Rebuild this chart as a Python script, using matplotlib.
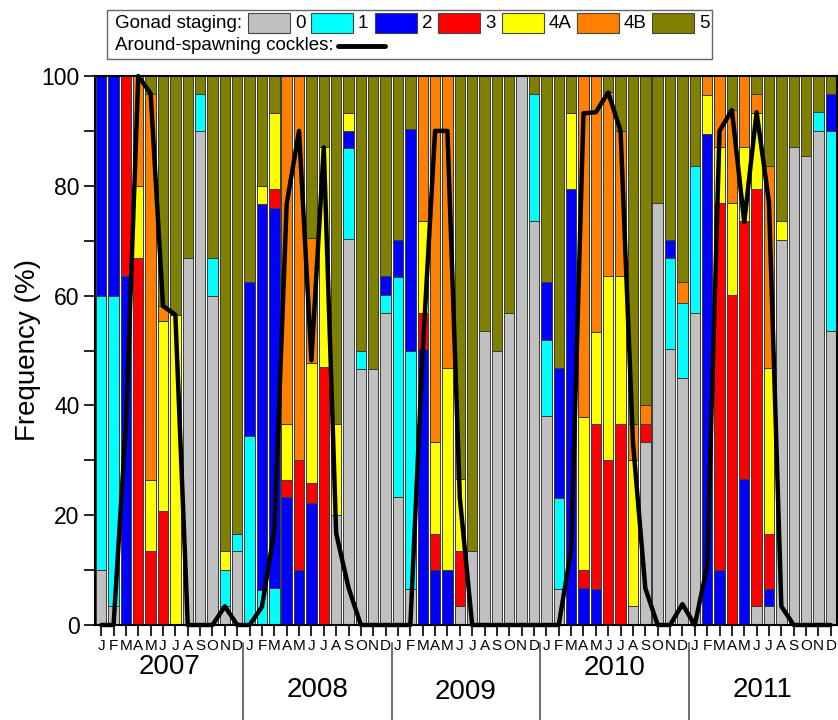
import matplotlib
matplotlib.use('Agg')
import matplotlib.pyplot as plt
import matplotlib.transforms as mtransforms
from matplotlib.patches import Rectangle
from matplotlib.lines import Line2D
import numpy as np

plt.rcParams['font.family'] = ['Liberation Sans', 'DejaVu Sans']

years = ['2007', '2008', '2009', '2010', '2011']
months = ['J', 'F', 'M', 'A', 'M', 'J', 'J', 'A', 'S', 'O', 'N', 'D']
stage_names = ['0', '1', '2', '3', '4A', '4B', '5']
stage_colors = ['#C0C0C0', '#00FFFF', '#0000FF', '#FF0000', '#FFFF00', '#FF8000', '#808000']

# % of cockles per gonad stage, Jan 2007 .. Dec 2011 (one line per year)
stage0 = [10, 3.4, 0, 0, 0, 0, 0, 66.8, 90, 60, 3.4, 13.4,
          0, 0, 0, 0, 0, 0, 0, 20, 70.3, 46.6, 46.6, 56.8,
          23.3, 6.6, 0, 0, 0, 3.4, 13.4, 53.6, 50, 56.8, 100, 73.5,
          38, 6.6, 0, 0, 0, 0, 0, 3.4, 33.3, 76.8, 50.2, 45,
          56.8, 0, 0, 0, 0, 3.4, 3.4, 70.1, 87, 85.5, 90, 53.6]
stage1 = [50, 56.6, 0, 0, 0, 0, 0, 0, 6.8, 6.8, 6.6, 3.2,
          34.5, 6.3, 6.8, 0, 0, 0, 0, 0, 16.5, 3.4, 0, 3.3,
          40.1, 43.4, 0, 0, 0, 0, 0, 0, 0, 0, 0, 23.3,
          13.9, 16.6, 0, 0, 0, 0, 0, 0, 0, 0, 16.6, 13.6,
          26.8, 0, 0, 0, 0, 0, 0, 0, 0, 0, 3.4, 36.4]
stage2 = [40, 40, 63.5, 0, 0, 0, 0, 0, 0, 0, 0, 0,
          27.9, 70.4, 69.2, 23.3, 10, 22.3, 0, 0, 3.2, 0, 0, 3.4,
          6.7, 40.4, 50.2, 10, 10, 0, 0, 0, 0, 0, 0, 0,
          10.5, 23.6, 79.5, 6.8, 6.6, 0, 0, 0, 0, 0, 3.3, 0,
          0, 89.4, 10, 0, 26.6, 0, 3.2, 0, 0, 0, 0, 6.8]
stage3 = [0, 0, 36.5, 66.8, 13.4, 20.8, 0, 0, 0, 0, 0, 0,
          0, 0, 3.5, 3.2, 20, 3.6, 47, 0, 0, 0, 0, 0,
          0, 0, 6.6, 6.6, 0, 10, 0, 0, 0, 0, 0, 0,
          0, 0, 0, 3.3, 30.1, 30, 36.7, 0, 3.4, 0, 0, 0,
          0, 0, 66.8, 60.1, 46.9, 76.1, 10, 0, 0, 0, 0, 0]
stage4a = [0, 0, 0, 13.2, 13.1, 34.5, 56.5, 0, 0, 0, 3.4, 0,
           0, 3.3, 13.7, 10.2, 0, 21.9, 40, 16.7, 3.2, 0, 0, 0,
           0, 0, 16.7, 16.7, 36.8, 13.2, 0, 0, 0, 0, 0, 0,
           0, 0, 13.7, 27.7, 16.7, 33.5, 26.8, 26.6, 0, 0, 0, 0,
           0, 7.2, 10.2, 16.7, 13.5, 13.7, 30.2, 3.4, 0, 0, 0, 0]
stage4b = [0, 0, 0, 20, 70.3, 2.8, 0, 0, 0, 0, 0, 0,
           0, 0, 0, 63.3, 70, 22.7, 0, 0, 0, 0, 0, 0,
           0, 0, 26.5, 66.7, 53.2, 0, 0, 0, 0, 0, 0, 0,
           0, 0, 0, 62.2, 46.6, 33.5, 26.5, 6.7, 3.3, 0, 0, 3.8,
           0, 3.4, 13, 17, 13, 3.6, 36.8, 0, 0, 0, 0, 0]
stage5 = [0, 0, 0, 0, 3.2, 41.9, 43.5, 33.2, 3.2, 33.2, 86.6, 83.4,
          37.6, 20, 6.8, 0, 0, 29.5, 13, 63.3, 6.8, 50, 53.4, 36.5,
          29.9, 9.6, 0, 0, 0, 73.4, 86.6, 46.4, 50, 43.2, 0, 3.2,
          37.6, 53.2, 6.8, 0, 0, 3, 10, 63.3, 60, 23.2, 29.9, 37.6,
          16.4, 0, 0, 6.2, 0, 3.2, 16.4, 26.5, 13, 14.5, 6.6, 3.2]

# around-spawning cockles (%)
spawning = [0, 0, 36.5, 100, 96.8, 58.1, 56.5, 0, 0, 0, 3.4, 0,
            0, 3.3, 17.2, 76.7, 90, 48.2, 87, 16.7, 6.8, 0, 0, 0,
            0, 0, 49.8, 90, 90, 23.2, 0, 0, 0, 0, 0, 0,
            0, 0, 13.7, 93.2, 93.4, 97, 90, 33.3, 6.7, 0, 0, 3.8,
            0, 10.6, 90, 93.8, 73.4, 93.4, 77, 3.4, 0, 0, 0, 0]

stages = [stage0, stage1, stage2, stage3, stage4a, stage4b, stage5]

W, H = 838, 720
fig = plt.figure(figsize=(W / 100, H / 100), dpi=100)
ax = fig.add_axes([95 / W, 95 / H, 742 / W, 549 / H])

x = np.arange(len(spawning))
bottom = np.zeros(len(x))
for vals, col in zip(stages, stage_colors):
    vals = np.array(vals, dtype=float)
    ax.bar(x, vals, width=0.84, bottom=bottom, color=col,
           edgecolor='#3a3a3a', linewidth=0.7)
    bottom += vals

ax.plot(x, spawning, color='black', lw=3.2, solid_joinstyle='round',
        solid_capstyle='round', zorder=5, clip_on=False)

ax.set_xlim(-0.5, len(x) - 0.5)
ax.set_ylim(0, 100)
ax.set_xticks(x)
ax.set_xticklabels(months * len(years))
ax.set_yticks(np.arange(0, 101, 20))
ax.set_yticks(np.arange(10, 100, 20), minor=True)
ax.tick_params(axis='y', which='major', direction='out', length=8, width=1.2,
               labelsize=16.5, pad=3)
ax.tick_params(axis='y', which='minor', direction='out', length=8, width=1.2)
ax.tick_params(axis='x', direction='out', length=8, width=1.2, labelsize=11, pad=2)
for s in ax.spines.values():
    s.set_linewidth(1.5)

sec = ax.secondary_yaxis('right')
sec.set_yticks(np.arange(0, 101, 10))
sec.tick_params(direction='in', length=6, width=1.2, labelright=False)

fig.text(28 / W, 1 - 350 / H, 'Frequency (%)', rotation=90, fontsize=20,
         ha='center', va='center')

# year labels and separators under the month axis
trans = mtransforms.blended_transform_factory(ax.transData, fig.transFigure)
year_y = [667, 690, 692, 668, 690]
for i, (yr, ypx) in enumerate(zip(years, year_y)):
    ax.text(12 * i + 5.5, 1 - ypx / H, yr, transform=trans, fontsize=20,
            ha='center', va='center', clip_on=False)
for i in range(1, len(years)):
    fig.add_artist(Line2D([12 * i - 0.5] * 2, [1 - 643 / H, 0], transform=trans,
                          color='#555555', lw=1.2))

# legend box
def fx(px):
    return px / W


def fy(py):
    return 1 - py / H


fig.add_artist(Rectangle((fx(107), fy(59)), (712 - 107) / W, 49 / H,
                         transform=fig.transFigure, facecolor='white',
                         edgecolor='#666666', lw=1))
fig.text(fx(115), fy(23), 'Gonad staging:', fontsize=13.5, ha='left', va='center')
box_x = [248, 311, 375, 438, 502, 577, 652]
for bx, col, name in zip(box_x, stage_colors, stage_names):
    fig.add_artist(Rectangle((fx(bx), fy(33)), 42 / W, 20 / H,
                             transform=fig.transFigure, facecolor=col,
                             edgecolor='#444444', lw=0.8))
    fig.text(fx(bx + 47), fy(23), name, fontsize=13.5, ha='left', va='center')
fig.text(fx(115), fy(46), 'Around-spawning cockles:', fontsize=13.5,
         ha='left', va='center')
fig.add_artist(Line2D([fx(338), fx(385)], [fy(45.5), fy(45.5)],
                      transform=fig.transFigure, color='black', lw=3.5,
                      solid_capstyle='round'))

fig.savefig('out.png', dpi=100)
